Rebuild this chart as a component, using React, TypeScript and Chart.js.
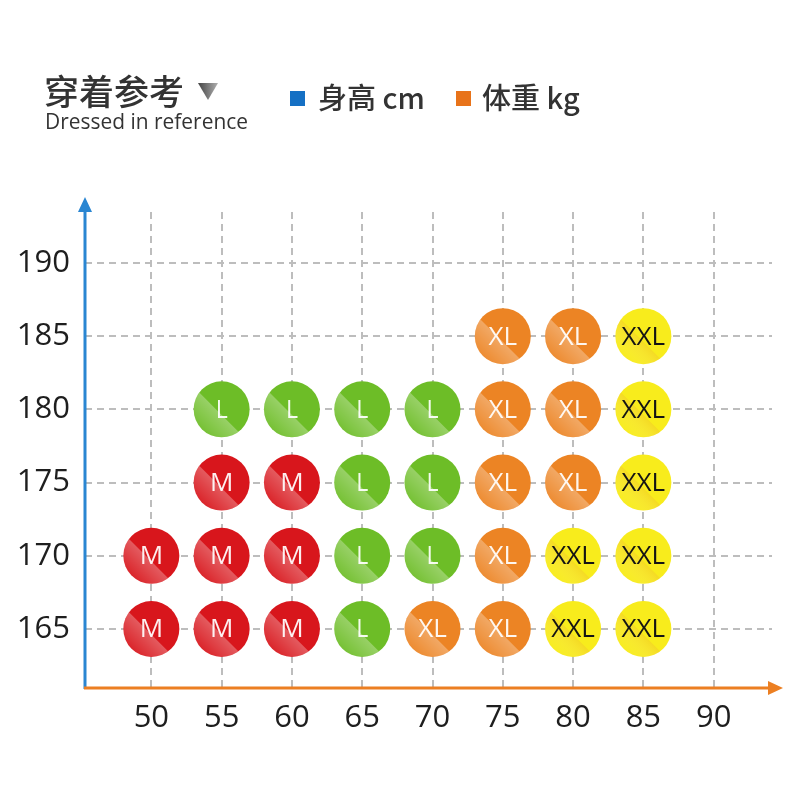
import React, { useEffect, useRef } from "react";
import { Chart, registerables } from "chart.js";

Chart.register(...registerables);

// ---- data ----
const weightTicks = [50, 55, 60, 65, 70, 75, 80, 85, 90];
const heightTicks = [165, 170, 175, 180, 185, 190];

const sizeNames = ["M", "L", "XL", "XXL"];
const sizeColors = ["#d8161c", "#6dbd27", "#ec8424", "#f8ec1c"];
const sizeTextColors = ["rgba(255,255,255,0.93)", "rgba(255,255,255,0.93)", "rgba(255,255,255,0.93)", "#141414"];

// [weight kg, height cm]
const mPoints: [number, number][] = [[50, 165], [55, 165], [60, 165], [50, 170], [55, 170], [60, 170], [55, 175], [60, 175]];
const lPoints: [number, number][] = [[65, 165], [65, 170], [70, 170], [65, 175], [70, 175], [55, 180], [60, 180], [65, 180], [70, 180]];
const xlPoints: [number, number][] = [[70, 165], [75, 165], [75, 170], [75, 175], [80, 175], [75, 180], [80, 180], [75, 185], [80, 185]];
const xxlPoints: [number, number][] = [[80, 165], [85, 165], [80, 170], [85, 170], [85, 175], [85, 180], [85, 185]];

const titleCn = "穿着参考";
const titleEn = "Dressed in reference";
const legendHeight = "身高 cm";
const legendWeight = "体重 kg";

const allPoints = [mPoints, lPoints, xlPoints, xxlPoints];

const CJK = '"Noto Sans CJK SC", "Noto Sans", sans-serif';
const LATIN = '"Open Sans", "Noto Sans", sans-serif';

const decorPlugin = {
  id: "decor",
  beforeDraw(chart: any) {
    const ctx = chart.ctx;
    ctx.save();
    ctx.fillStyle = "#ffffff";
    ctx.fillRect(0, 0, chart.width, chart.height);
    // title
    ctx.fillStyle = "#333333";
    ctx.textBaseline = "alphabetic";
    ctx.textAlign = "left";
    ctx.font = `500 35px ${CJK}`;
    ctx.fillText(titleCn, 44, 105, 142);
    // triangle
    const tg = ctx.createLinearGradient(198, 0, 218, 0);
    tg.addColorStop(0, "#444");
    tg.addColorStop(1, "#b0b0b0");
    ctx.fillStyle = tg;
    ctx.beginPath();
    ctx.moveTo(198, 83);
    ctx.lineTo(218, 83);
    ctx.lineTo(208, 100);
    ctx.closePath();
    ctx.fill();
    ctx.fillStyle = "#333";
    ctx.font = `22px ${LATIN}`;
    ctx.fillText(titleEn, 45, 129, 203);
    // legend
    ctx.fillStyle = "#1570c4";
    ctx.fillRect(290, 91, 15, 15);
    ctx.fillStyle = "#e8731a";
    ctx.fillRect(456, 91, 15, 15);
    ctx.fillStyle = "#333";
    ctx.font = `500 29px ${CJK}`;
    ctx.fillText(legendHeight, 318, 109, 110);
    ctx.fillText(legendWeight, 482, 109, 100);
    ctx.restore();
  },
  afterDatasetsDraw(chart: any) {
    const ctx = chart.ctx;
    chart.data.datasets.forEach((ds: any, di: number) => {
      const meta = chart.getDatasetMeta(di);
      meta.data.forEach((el: any) => {
        const x = el.x;
        const y = el.y;
        const r = 28;
        ctx.save();
        ctx.beginPath();
        ctx.arc(x, y, r, 0, Math.PI * 2);
        ctx.clip();
        ctx.beginPath();
        ctx.moveTo(x - r * 1.2, y - r * 1.0);
        ctx.lineTo(x + r * 1.2, y + r * 1.4);
        ctx.lineTo(x - r * 1.2, y + r * 1.4);
        ctx.closePath();
        const g = ctx.createLinearGradient(x + 2, y - 2, x - r * 0.75, y + r * 0.75);
        if (di === 3) {
          g.addColorStop(0, "rgba(230,150,0,0.35)");
          g.addColorStop(1, "rgba(255,255,255,0.0)");
        } else {
          g.addColorStop(0, "rgba(255,255,255,0.36)");
          g.addColorStop(1, "rgba(255,255,255,0.05)");
        }
        ctx.fillStyle = g;
        ctx.fill();
        ctx.restore();
        // label
        ctx.save();
        ctx.fillStyle = sizeTextColors[di];
        ctx.textAlign = "center";
        ctx.textBaseline = "middle";
        const name = sizeNames[di];
        const widths = [24, 12, 31, 49];
        ctx.font = `26px ${LATIN}`;
        ctx.fillText(name, x, y + 1, widths[di]);
        ctx.restore();
      });
    });
  },
  afterDraw(chart: any) {
    const ctx = chart.ctx;
    const area = chart.chartArea;
    ctx.save();
    // y axis (blue)
    ctx.strokeStyle = "#2a86d2";
    ctx.fillStyle = "#2a86d2";
    ctx.lineWidth = 3;
    ctx.beginPath();
    ctx.moveTo(area.left, area.bottom + 1);
    ctx.lineTo(area.left, 208);
    ctx.stroke();
    ctx.beginPath();
    ctx.moveTo(area.left, 197);
    ctx.lineTo(area.left - 7, 212);
    ctx.lineTo(area.left + 7, 212);
    ctx.closePath();
    ctx.fill();
    // x axis (orange)
    ctx.strokeStyle = "#ec7f22";
    ctx.fillStyle = "#ec7f22";
    ctx.beginPath();
    ctx.moveTo(area.left - 1, area.bottom);
    ctx.lineTo(772, area.bottom);
    ctx.stroke();
    ctx.beginPath();
    ctx.moveTo(783, area.bottom);
    ctx.lineTo(768, area.bottom - 7);
    ctx.lineTo(768, area.bottom + 7);
    ctx.closePath();
    ctx.fill();
    ctx.restore();
  },
};

export default function App() {
  const ref = useRef<HTMLCanvasElement | null>(null);
  useEffect(() => {
    if (!ref.current) return;
    const chart = new Chart(ref.current, {
      type: "scatter",
      data: {
        datasets: allPoints.map((pts, i) => ({
          label: sizeNames[i],
          data: pts.map(([x, y]) => ({ x, y })),
          backgroundColor: sizeColors[i],
          borderWidth: 0,
          pointRadius: 28,
          pointHoverRadius: 28,
        })),
      },
      options: {
        animation: false,
        responsive: false,
        layout: { padding: { left: 0, top: 212, right: 22, bottom: 0 } },
        plugins: { legend: { display: false }, tooltip: { enabled: false } },
        scales: {
          x: {
            type: "linear",
            min: 45.28,
            max: 94.15,
            afterBuildTicks: (s: any) => {
              s.ticks = weightTicks.map((v) => ({ value: v }));
            },
            afterFit: (s: any) => {
              s.height = 112;
            },
            grid: { color: "#bdbdbd", lineWidth: 2, drawTicks: false },
            border: { display: false, dash: [7, 5] },
            ticks: {
              color: "#1e1e1e",
              font: { family: LATIN, size: 31 },
              padding: 12,
              maxRotation: 0,
              autoSkip: false,
            },
          },
          y: {
            type: "linear",
            min: 160.97,
            max: 193.48,
            afterBuildTicks: (s: any) => {
              s.ticks = heightTicks.map((v) => ({ value: v }));
            },
            afterFit: (s: any) => {
              s.width = 85;
            },
            grid: { color: "#bdbdbd", lineWidth: 2, drawTicks: false },
            border: { display: false, dash: [7, 5] },
            ticks: {
              color: "#1e1e1e",
              font: { family: LATIN, size: 31 },
              padding: 15,
              autoSkip: false,
            },
          },
        },
      },
      plugins: [decorPlugin],
    });
    return () => chart.destroy();
  }, []);
  return (
    <div style={{ position: "absolute", left: 0, top: 0, width: 800, height: 800, background: "#fff" }}>
      <canvas ref={ref} width={800} height={800} style={{ display: "block" }} />
    </div>
  );
}
